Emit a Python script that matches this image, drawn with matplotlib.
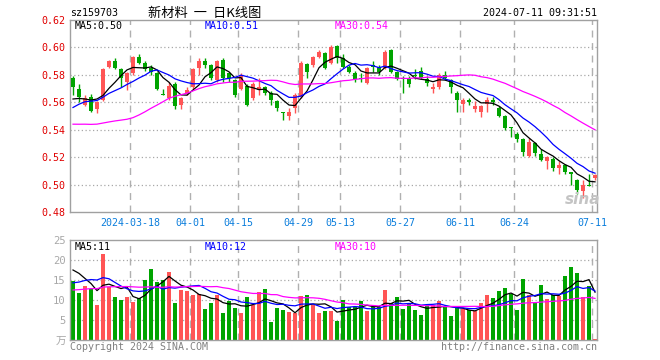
import matplotlib
matplotlib.use("Agg")
import matplotlib.pyplot as plt
import numpy as np
import pandas as pd

# ---- data ----
code = "sz159703"
title = "新材料  一  日K线图"
stamp = "2024-07-11 09:31:51"

holidays = ["2024-04-04", "2024-04-05", "2024-05-01", "2024-05-02", "2024-05-03", "2024-06-10"]
dates = [d for d in pd.bdate_range("2024-03-04", "2024-07-11").strftime("%Y-%m-%d") if d not in holidays]
tick_dates = ["2024-03-18", "2024-04-01", "2024-04-15", "2024-04-29", "2024-05-13",
              "2024-05-27", "2024-06-11", "2024-06-24", "2024-07-11"]
tick_labels = ["2024-03-18", "04-01", "04-15", "04-29", "05-13", "05-27", "06-11", "06-24", "07-11"]

open_ = [0.578, 0.570, 0.558, 0.564, 0.555, 0.562, 0.586, 0.590, 0.584, 0.575,
         0.581, 0.593, 0.589, 0.585, 0.581, 0.566, 0.563, 0.573, 0.558, 0.566,
         0.571, 0.585, 0.590, 0.587, 0.576, 0.591, 0.581, 0.576, 0.570, 0.572,
         0.563, 0.569, 0.571, 0.567, 0.561, 0.553, 0.550, 0.556, 0.564, 0.588,
         0.587, 0.593, 0.596, 0.589, 0.601, 0.592, 0.586, 0.581, 0.578, 0.574,
         0.587, 0.586, 0.585, 0.598, 0.582, 0.578, 0.578, 0.580, 0.583, 0.577,
         0.570, 0.571, 0.580, 0.576, 0.567, 0.559, 0.562, 0.555, 0.553, 0.559,
         0.562, 0.556, 0.550, 0.542, 0.537, 0.533, 0.521, 0.530, 0.522, 0.517,
         0.519, 0.512, 0.514, 0.509, 0.503, 0.495, 0.500, 0.505]
high = [0.579, 0.573, 0.565, 0.566, 0.561, 0.585, 0.591, 0.592, 0.585, 0.582,
        0.594, 0.595, 0.590, 0.587, 0.582, 0.570, 0.575, 0.575, 0.564, 0.571,
        0.585, 0.592, 0.592, 0.588, 0.591, 0.592, 0.582, 0.577, 0.581, 0.573,
        0.575, 0.578, 0.572, 0.568, 0.562, 0.553, 0.556, 0.567, 0.590, 0.589,
        0.594, 0.598, 0.597, 0.602, 0.602, 0.595, 0.587, 0.583, 0.581, 0.586,
        0.590, 0.587, 0.598, 0.599, 0.583, 0.579, 0.579, 0.584, 0.586, 0.579,
        0.574, 0.581, 0.583, 0.577, 0.568, 0.563, 0.563, 0.561, 0.558, 0.564,
        0.564, 0.557, 0.551, 0.542, 0.538, 0.534, 0.534, 0.531, 0.526, 0.521,
        0.520, 0.517, 0.515, 0.509, 0.504, 0.503, 0.508, 0.508]
low = [0.565, 0.560, 0.557, 0.553, 0.552, 0.561, 0.585, 0.584, 0.571, 0.569,
       0.580, 0.588, 0.583, 0.580, 0.569, 0.565, 0.562, 0.555, 0.555, 0.565,
       0.570, 0.580, 0.585, 0.576, 0.575, 0.575, 0.575, 0.564, 0.569, 0.557,
       0.562, 0.565, 0.565, 0.558, 0.554, 0.547, 0.547, 0.552, 0.563, 0.578,
       0.586, 0.592, 0.584, 0.588, 0.589, 0.585, 0.581, 0.575, 0.575, 0.573,
       0.582, 0.580, 0.584, 0.581, 0.576, 0.567, 0.571, 0.577, 0.577, 0.572,
       0.567, 0.570, 0.576, 0.567, 0.553, 0.553, 0.558, 0.553, 0.549, 0.553,
       0.558, 0.549, 0.540, 0.535, 0.531, 0.521, 0.520, 0.521, 0.517, 0.511,
       0.510, 0.508, 0.508, 0.500, 0.493, 0.490, 0.499, 0.503]
close = [0.571, 0.564, 0.563, 0.554, 0.560, 0.584, 0.590, 0.585, 0.578, 0.581,
         0.593, 0.589, 0.584, 0.582, 0.570, 0.565, 0.572, 0.557, 0.563, 0.569,
         0.584, 0.590, 0.587, 0.578, 0.590, 0.578, 0.578, 0.565, 0.579, 0.558,
         0.573, 0.571, 0.567, 0.562, 0.556, 0.552, 0.553, 0.565, 0.589, 0.582,
         0.593, 0.597, 0.585, 0.600, 0.592, 0.586, 0.582, 0.577, 0.577, 0.585,
         0.586, 0.582, 0.597, 0.582, 0.577, 0.577, 0.573, 0.579, 0.578, 0.574,
         0.571, 0.580, 0.578, 0.571, 0.562, 0.562, 0.560, 0.557, 0.557, 0.562,
         0.560, 0.550, 0.541, 0.541, 0.533, 0.524, 0.531, 0.523, 0.518, 0.520,
         0.512, 0.514, 0.509, 0.508, 0.496, 0.500, 0.499, 0.507]
# volume, 万
volume = [14.8, 11.8, 13.6, 12.7, 8.8, 21.5, 13.2, 10.8, 10.0, 10.8,
          9.6, 10.4, 15.0, 17.8, 14.6, 15.0, 17.1, 9.3, 12.5, 12.3,
          11.3, 11.5, 7.8, 9.3, 11.3, 6.8, 9.8, 8.1, 6.8, 10.8,
          8.8, 12.1, 12.8, 4.6, 8.1, 7.5, 7.1, 6.8, 11.0, 11.3,
          8.8, 6.8, 7.3, 7.2, 4.8, 10.0, 8.2, 8.2, 9.8, 7.3,
          8.2, 8.2, 12.5, 9.3, 10.8, 7.8, 9.2, 7.5, 6.3, 8.8,
          8.8, 9.8, 8.3, 6.0, 7.9, 7.7, 7.5, 7.3, 9.3, 11.3,
          10.6, 12.3, 13.1, 11.4, 7.5, 15.3, 11.3, 9.2, 13.8, 10.3,
          11.3, 11.1, 16.0, 18.3, 16.8, 10.8, 13.6, 0.3]
# sessions before 2024-03-04, only feed the moving averages
close_before = [0.565, 0.562, 0.558, 0.555, 0.560, 0.566, 0.563, 0.560, 0.562, 0.558,
                0.530, 0.515, 0.505, 0.500, 0.492, 0.495, 0.515, 0.528, 0.535,
                0.535, 0.540, 0.545, 0.550, 0.555, 0.560, 0.562, 0.565, 0.558, 0.556]
volume_before = [9.0, 10.0, 8.5, 9.0, 10.0, 11.0, 10.0, 9.5, 10.0, 12.0,
                 13.0, 14.0, 16.0, 18.0, 15.0, 13.0, 12.0, 11.0, 10.0, 10.9,
                 10.0, 9.5, 10.5, 9.9, 15.6, 16.0, 20.0, 19.0, 17.7]

RED = "#ff5555"
GREEN = "#00a400"
MA_COLORS = {5: "black", 10: "#0000ff", 30: "#ff00ff"}
MONO = "DejaVu Sans Mono"
W, H = 660, 360


def fx(px):
    return px / W


def fy(py):
    return 1 - py / H


def moving(before, values, n):
    s = pd.Series(list(before) + list(values))
    return s.rolling(n).mean().to_numpy()[len(before):]


n = len(close)
x = np.arange(n)
o, c, hi, lo = map(np.array, (open_, close, high, low))
up = c >= o
colors = np.where(up, RED, GREEN)
tick_pos = [dates.index(d) - 0.5 for d in tick_dates]

fig = plt.figure(figsize=(W / 100, H / 100), dpi=100)
ax1 = fig.add_axes([fx(70), fy(212), fx(527), 192 / H])
ax2 = fig.add_axes([fx(70), fy(340), fx(527), 100 / H])

for ax in (ax1, ax2):
    ax.set_xlim(-0.5, n - 0.67)
    for sp in ax.spines.values():
        sp.set_color("#a0a0a0")
        sp.set_linewidth(1.0)
    for p in tick_pos:
        ax.axvline(p, color="#b0b0b0", lw=1.0, ls=(0, (5, 4)), zorder=0)
    ax.tick_params(length=0)

# price panel
ax1.set_ylim(0.48, 0.62)
yt = np.arange(0.48, 0.6201, 0.02)
ax1.set_yticks(yt)
ax1.set_yticklabels([f"{v:.2f}" for v in yt], color="#e00000", fontsize=7.2, family=MONO)
for v in yt[1:-1]:
    ax1.axhline(v, color="#a8a8a8", lw=0.9, ls=(0, (1, 2)), zorder=0)
ax1.set_xticks(tick_pos)
ax1.set_xticklabels(tick_labels, color="#0a7ddc", fontsize=7.2, family=MONO)
ax1.tick_params(axis="x", pad=4)
ax1.tick_params(axis="y", pad=3)

ax1.vlines(x, lo, hi, colors=colors, lw=1.0, zorder=2)
body = np.maximum(np.abs(c - o), 0.0004)
ax1.bar(x, body, bottom=np.minimum(o, c), width=0.8, color=colors, lw=0, zorder=3)

ma_price = {k: moving(close_before, close, k) for k in (5, 10, 30)}
for k, v in ma_price.items():
    ax1.plot(x, v, color=MA_COLORS[k], lw=0.9, zorder=4)

fig.text(fx(583), fy(200), "sina", fontsize=11, style="italic", weight="bold",
         color="#c4c4c4", ha="center", va="center", zorder=5)

# volume panel
ax2.set_ylim(0, 25)
ax2.set_yticks([0, 5, 10, 15, 20, 25])
ax2.set_yticklabels(["万", "5", "10", "15", "20", "25"], color="#a8a8a8", fontsize=7.6,
                    family=[MONO, "Noto Sans CJK SC"])
ax2.tick_params(axis="y", pad=3)
ax2.set_xticks([])
for v in (5, 10, 15, 20):
    ax2.axhline(v, color="#a8a8a8", lw=0.9, ls=(0, (1, 2)), zorder=0)
ax2.bar(x, volume, width=0.8, color=colors, lw=0, zorder=2)
ma_vol = {k: moving(volume_before, volume, k) for k in (5, 10, 30)}
for k, v in ma_vol.items():
    ax2.plot(x, v, color=MA_COLORS[k], lw=0.9, zorder=4)

# header / labels
fig.text(fx(70), fy(13), code, fontsize=7.2, family=MONO, va="center", ha="left")
fig.text(fx(205), fy(13), title, fontsize=9.5, family=["Noto Sans CJK SC", "DejaVu Sans"],
         va="center", ha="center")
fig.text(fx(597), fy(13), stamp, fontsize=7.2, family=MONO, va="center", ha="right")

for k, px in ((5, 75), (10, 205), (30, 335)):
    fig.text(fx(px), fy(26), f"MA{k}:{ma_price[k][-1]:.2f}", color=MA_COLORS[k],
             fontsize=7.2, family=MONO, va="center", ha="left")
    fig.text(fx(px), fy(247), f"MA{k}:{int(ma_vol[k][-1])}", color=MA_COLORS[k],
             fontsize=7.2, family=MONO, va="center", ha="left")

fig.text(fx(70), fy(347), "Copyright 2024 SINA.COM", color="#808080", fontsize=7.2,
         family=MONO, va="center", ha="left")
fig.text(fx(597), fy(347), "http://finance.sina.com.cn", color="#808080", fontsize=7.2,
         family=MONO, va="center", ha="right")

fig.savefig("out.png", dpi=100)
